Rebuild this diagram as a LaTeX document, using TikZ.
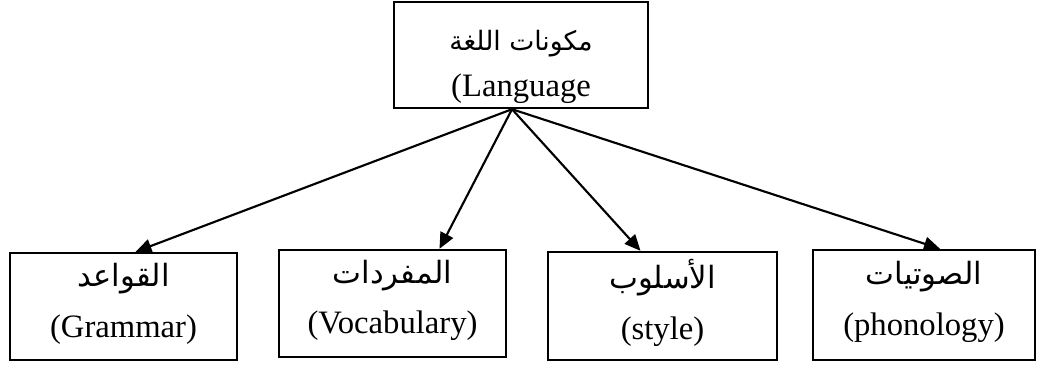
\documentclass[tikz,border=0pt]{standalone}
\usepackage{fontspec}
\setmainfont{Liberation Serif}
\newfontfamily\arabicfont[Script=Arabic]{DejaVu Sans}
\TeXXeTstate=1
\usetikzlibrary{arrows.meta,calc}
\tikzset{
  box/.style={draw=black, line width=1.8pt, rectangle, inner sep=0pt},
  lbl/.style={inner sep=0pt, align=center, font=\fontsize{24.5}{34}\selectfont},
  conn/.style={line width=1.6pt, -{Triangle[length=12pt,width=10.5pt]}},
}
\newcommand{\arsz}[1]{\arabicfont\fontsize{#1}{24}\selectfont}
\begin{document}
\begin{tikzpicture}[x=0.75pt,y=-0.75pt]
\useasboundingbox (0,0) rectangle (1037,365);
\node[box, minimum width=254*0.75pt, minimum height=106*0.75pt] (top) at (521,55) {};
\node[box, minimum width=227*0.75pt, minimum height=107*0.75pt] (b1) at (123.5,306.5) {};
\node[box, minimum width=227*0.75pt, minimum height=107*0.75pt] (b2) at (392.5,303.5) {};
\node[box, minimum width=229*0.75pt, minimum height=108*0.75pt] (b3) at (662.5,306) {};
\node[box, minimum width=222*0.75pt, minimum height=110*0.75pt] (b4) at (924,305) {};
\node[lbl] (topt) at ($(top.center)+(0,12)$) {{\arsz{20}\beginR مكونات اللغة\endR}\\[0pt](Language};
\node[lbl] (b1t) at ($(b1.center)+(0,-3)$) {{\arsz{23}\beginR القواعد\endR}\\[4pt](Grammar)};
\node[lbl] (b2t) at ($(b2.center)+(0,-3)$) {{\arsz{23}\beginR المفردات\endR}\\[4pt](Vocabulary)};
\node[lbl] (b3t) at ($(b3.center)+(0,-3)$) {{\arsz{23}\beginR الأسلوب\endR}\\[4pt](style)};
\node[lbl] (b4t) at ($(b4.center)+(0,-3)$) {{\arsz{23}\beginR الصوتيات\endR}\\[4pt](phonology)};
\coordinate (o) at ($(top.south)+(-9,0)$);
\draw[conn] (o) -- ($(b1.north)+(12,0)$);
\draw[conn] (o) -- ($(b2.north)+(47,0)$);
\draw[conn] (o) -- ($(b3.north)+(-22,0)$);
\draw[conn] (o) -- ($(b4.north)+(16,0)$);
\end{tikzpicture}
\end{document}
